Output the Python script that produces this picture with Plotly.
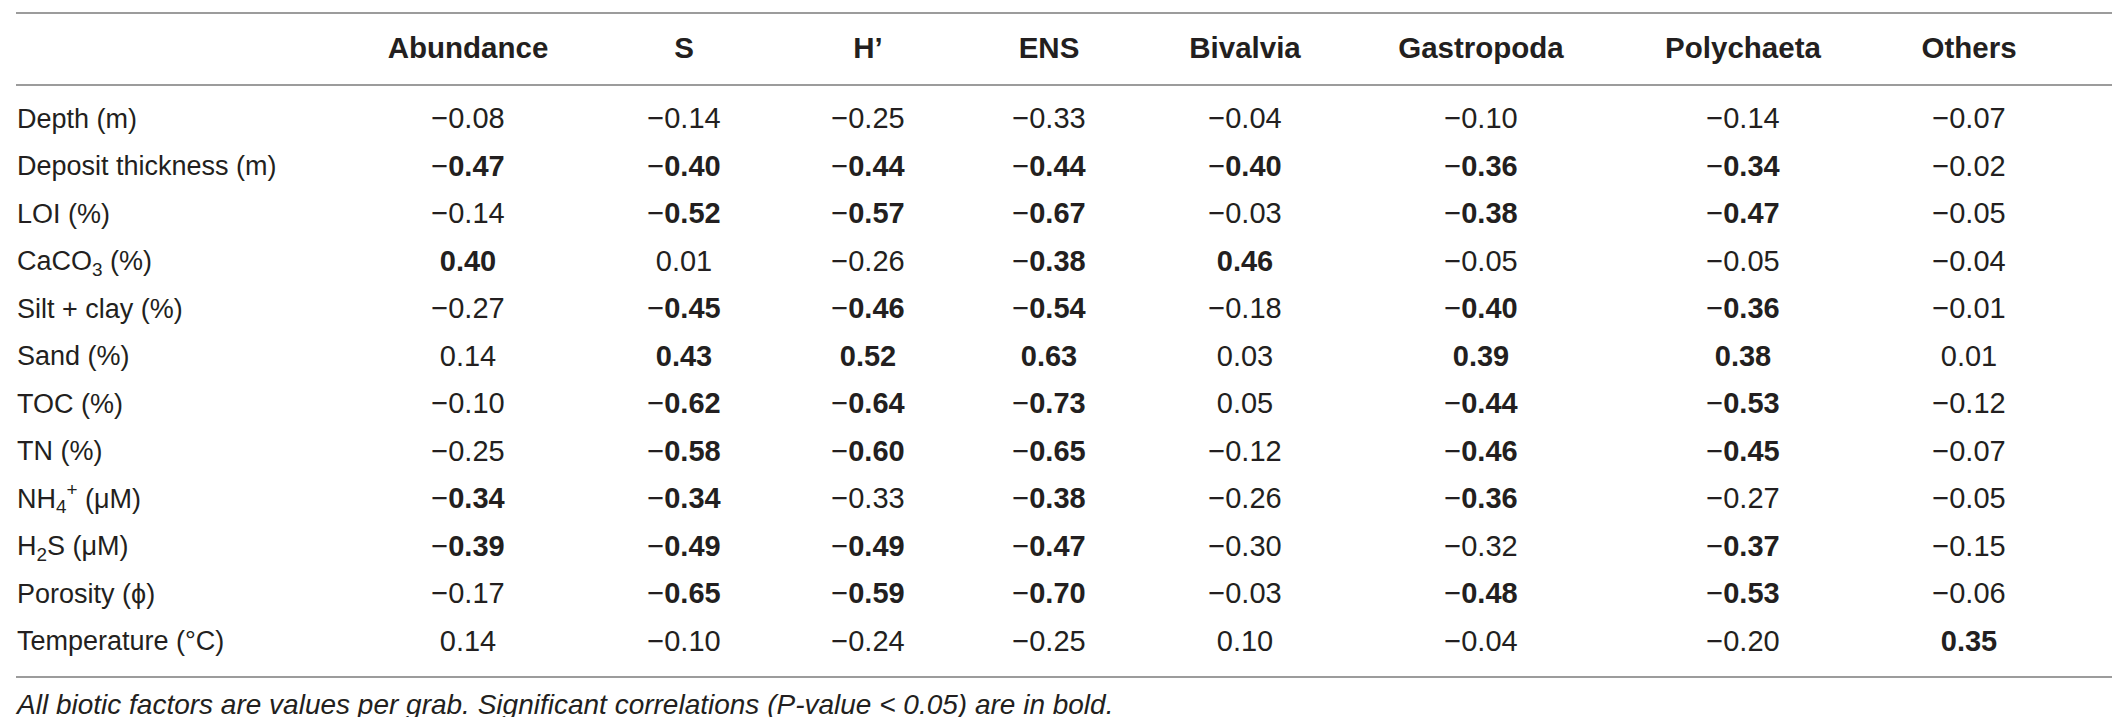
import plotly.graph_objects as go

# Table data
row_labels = ["Depth (m)", "Deposit thickness (m)", "LOI (%)", "CaCO<sub>3</sub> (%)",
              "Silt + clay (%)", "Sand (%)", "TOC (%)", "TN (%)",
              "NH<sub>4</sub><sup>+</sup> (μM)", "H<sub>2</sub>S (μM)",
              "Porosity (ϕ)", "Temperature (°C)"]
col_labels = ["Abundance", "S", "H’", "ENS", "Bivalvia", "Gastropoda", "Polychaeta", "Others"]

abundance = [-0.08, -0.47, -0.14, 0.40, -0.27, 0.14, -0.10, -0.25, -0.34, -0.39, -0.17, 0.14]
s_rich = [-0.14, -0.40, -0.52, 0.01, -0.45, 0.43, -0.62, -0.58, -0.34, -0.49, -0.65, -0.10]
h_div = [-0.25, -0.44, -0.57, -0.26, -0.46, 0.52, -0.64, -0.60, -0.33, -0.49, -0.59, -0.24]
ens = [-0.33, -0.44, -0.67, -0.38, -0.54, 0.63, -0.73, -0.65, -0.38, -0.47, -0.70, -0.25]
bivalvia = [-0.04, -0.40, -0.03, 0.46, -0.18, 0.03, 0.05, -0.12, -0.26, -0.30, -0.03, 0.10]
gastropoda = [-0.10, -0.36, -0.38, -0.05, -0.40, 0.39, -0.44, -0.46, -0.36, -0.32, -0.48, -0.04]
polychaeta = [-0.14, -0.34, -0.47, -0.05, -0.36, 0.38, -0.53, -0.45, -0.27, -0.37, -0.53, -0.20]
others = [-0.07, -0.02, -0.05, -0.04, -0.01, 0.01, -0.12, -0.07, -0.05, -0.15, -0.06, 0.35]

# significant (P < 0.05) -> bold
sig_abundance = [0, 1, 0, 1, 0, 0, 0, 0, 1, 1, 0, 0]
sig_s = [0, 1, 1, 0, 1, 1, 1, 1, 1, 1, 1, 0]
sig_h = [0, 1, 1, 0, 1, 1, 1, 1, 0, 1, 1, 0]
sig_ens = [0, 1, 1, 1, 1, 1, 1, 1, 1, 1, 1, 0]
sig_bivalvia = [0, 1, 0, 1, 0, 0, 0, 0, 0, 0, 0, 0]
sig_gastropoda = [0, 1, 1, 0, 1, 1, 1, 1, 1, 0, 1, 0]
sig_polychaeta = [0, 1, 1, 0, 1, 1, 1, 1, 0, 1, 1, 0]
sig_others = [0, 0, 0, 0, 0, 0, 0, 0, 0, 0, 0, 1]

footnote = "All biotic factors are values per grab. Significant correlations (P-value < 0.05) are in bold."

columns = [abundance, s_rich, h_div, ens, bivalvia, gastropoda, polychaeta, others]
sigs = [sig_abundance, sig_s, sig_h, sig_ens, sig_bivalvia, sig_gastropoda, sig_polychaeta, sig_others]

# layout (pixel x positions of column centres)
col_x = [460, 676, 860, 1041, 1237, 1473, 1735, 1961]
W, H = 2120, 717
row_px = 47.5
first_row_px = 113
FONT = "Liberation Sans, Arial, sans-serif"
INK = "#231f20"
RULE = "#9c9c9c"


def to_y(px):
    return (px - first_row_px) / row_px


def fmt(v, bold):
    num = f"{abs(v):.2f}"
    if bold:
        num = f"<b>{num}</b>"
    return ("−" if v < 0 else "") + num


fig = go.Figure()

rows_idx = list(range(len(row_labels)))

# row labels
fig.add_trace(go.Scatter(
    x=[9] * len(row_labels), y=rows_idx, mode="text", text=row_labels,
    textposition="middle right", textfont=dict(family=FONT, size=27, color=INK),
    hoverinfo="skip", showlegend=False))

# values
for cx, vals, sg in zip(col_x, columns, sigs):
    fig.add_trace(go.Scatter(
        x=[cx] * len(vals), y=rows_idx, mode="text",
        text=[fmt(v, b) for v, b in zip(vals, sg)],
        textposition="middle center", textfont=dict(family=FONT, size=29, color=INK),
        hoverinfo="skip", showlegend=False))

# header
fig.add_trace(go.Scatter(
    x=col_x, y=[to_y(43)] * len(col_labels), mode="text",
    text=[f"<b>{c}</b>" for c in col_labels],
    textposition="middle center", textfont=dict(family=FONT, size=29.5, color=INK),
    hoverinfo="skip", showlegend=False))

# footnote
fig.add_trace(go.Scatter(
    x=[9], y=[to_y(699)], mode="text", text=[f"<i>{footnote}</i>"],
    textposition="middle right", textfont=dict(family=FONT, size=28, color=INK),
    hoverinfo="skip", showlegend=False))

# horizontal rules
for py in [5, 77, 669]:
    fig.add_shape(type="line", xref="x", yref="y", x0=8, x1=2115, y0=to_y(py), y1=to_y(py),
                  line=dict(color=RULE, width=2))

fig.update_xaxes(range=[0, W], visible=False, fixedrange=True)
fig.update_yaxes(range=[to_y(H), to_y(0)], visible=False, fixedrange=True)
fig.update_layout(width=W, height=H, margin=dict(l=0, r=0, t=0, b=0),
                  plot_bgcolor="white", paper_bgcolor="white")

fig.write_html("out.html")
